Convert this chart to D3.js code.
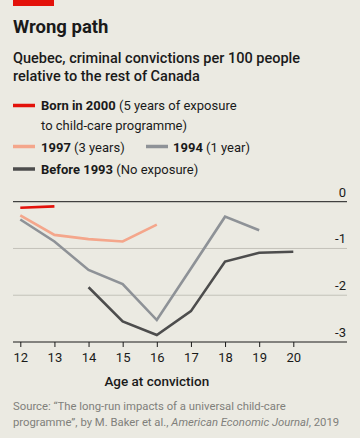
<!DOCTYPE html>
<html><head><meta charset="utf-8">
<script src="https://cdn.jsdelivr.net/npm/d3@7"></script>
<style>
html,body{margin:0;padding:0;background:#ebeae2;}
svg{display:block;font-family:Roboto, "Noto Sans", sans-serif;}
</style></head>
<body>
<script>
const ages = [12,13,14,15,16,17,18,19,20];
const xTickLabels = ["12","13","14","15","16","17","18","19","20"];
const yTicks = [0,-1,-2,-3];
const yTickLabels = ["0","-1","-2","-3"];
const born2000 = [[12,-0.13],[13,-0.10]];
const born1997 = [[12,-0.29],[13,-0.71],[14,-0.80],[15,-0.85],[16,-0.49]];
const born1994 = [[12,-0.38],[13,-0.85],[14,-1.46],[15,-1.76],[16,-2.53],[17,-1.43],[18,-0.32],[19,-0.61]];
const before1993 = [[14,-1.83],[15,-2.56],[16,-2.85],[17,-2.34],[18,-1.28],[19,-1.09],[20,-1.07]];

const W=360,H=438;
const svg=d3.select("body").append("svg").attr("width",W).attr("height",H);
svg.append("rect").attr("width",W).attr("height",H).attr("fill","#ebeae2");
svg.append("rect").attr("x",13).attr("y",0).attr("width",41).attr("height",6).attr("fill","#e3120b");

svg.append("text").attr("x",13).attr("y",33).attr("font-size",18.5).attr("font-weight",700).attr("fill","#1a1a1a").text("Wrong path");
svg.append("text").attr("x",13).attr("y",63).attr("font-size",14.5).attr("font-weight",500).attr("fill","#1a1a1a").text("Quebec, criminal convictions per 100 people");
svg.append("text").attr("x",13).attr("y",81).attr("font-size",14.5).attr("font-weight",500).attr("fill","#1a1a1a").text("relative to the rest of Canada");

const C={b2000:"#e3120b",b1997:"#f4a68b",b1994:"#8e9297",b1993:"#4d4d4d"};

// legend
function swatch(x,y,c){svg.append("line").attr("x1",x).attr("x2",x+22).attr("y1",y).attr("y2",y).attr("stroke",c).attr("stroke-width",3.5);}
function leg(x,y,bold,rest){
  const t=svg.append("text").attr("x",x).attr("y",y).attr("font-size",13).attr("fill","#1a1a1a");
  t.append("tspan").attr("font-weight",700).text(bold);
  if(rest) t.append("tspan").text(rest);
}
swatch(13,105.5,C.b2000); leg(41,110,"Born in 2000"," (5 years of exposure");
svg.append("text").attr("x",41).attr("y",130).attr("font-size",13).attr("fill","#1a1a1a").text("to child-care programme)");
swatch(13,146.5,C.b1997); leg(41,151.5,"1997"," (3 years)");
swatch(146,146.5,C.b1994); leg(173,151.5,"1994"," (1 year)");
swatch(13,169,C.b1993); leg(41,174,"Before 1993"," (No exposure)");

const x=d3.scaleLinear().domain([12,20]).range([20.3,293.3]);
const y=d3.scaleLinear().domain([0,-3]).range([201.7,342]);

// gridlines
yTicks.forEach((v,i)=>{
  svg.append("line").attr("x1",13).attr("x2",347).attr("y1",y(v)).attr("y2",y(v))
    .attr("stroke",v===0||v===-3?"#1a1a1a":"#c3c2b9").attr("stroke-width",1);
  svg.append("text").attr("x",346).attr("y",y(v)-5).attr("text-anchor","end").attr("font-size",13).attr("fill","#1a1a1a").text(yTickLabels[i]);
});

const line=d3.line().x(d=>x(d[0])).y(d=>y(d[1]));
[[before1993,C.b1993],[born1994,C.b1994],[born1997,C.b1997],[born2000,C.b2000]].forEach(([d,c])=>{
  svg.append("path").attr("d",line(d)).attr("fill","none").attr("stroke",c).attr("stroke-width",2.6).attr("stroke-linejoin","miter");
});

// x axis ticks
const xa=svg.append("g").attr("transform",`translate(0,${y(-3)})`)
  .call(d3.axisBottom(x).tickValues(ages).tickFormat((d,i)=>xTickLabels[i]).tickSize(5).tickPadding(6));
xa.select(".domain").remove();
xa.selectAll("line").attr("stroke","#1a1a1a");
xa.selectAll("text").attr("font-size",13).attr("font-family","Roboto, sans-serif").attr("fill","#1a1a1a");

svg.append("text").attr("x",x(16)).attr("y",386).attr("text-anchor","middle").attr("font-size",13.5).attr("font-weight",500).attr("fill","#1a1a1a").text("Age at conviction");

const s1=svg.append("text").attr("x",13).attr("y",410).attr("font-size",11.3).attr("fill","#80807b");
s1.text("Source: “The long-run impacts of a universal child-care");
const s2=svg.append("text").attr("x",13).attr("y",426).attr("font-size",11.3).attr("fill","#80807b");
s2.append("tspan").text("programme”, by M. Baker et al., ");
s2.append("tspan").attr("font-style","italic").text("American Economic Journal");
s2.append("tspan").text(", 2019");
</script>
</body></html>
